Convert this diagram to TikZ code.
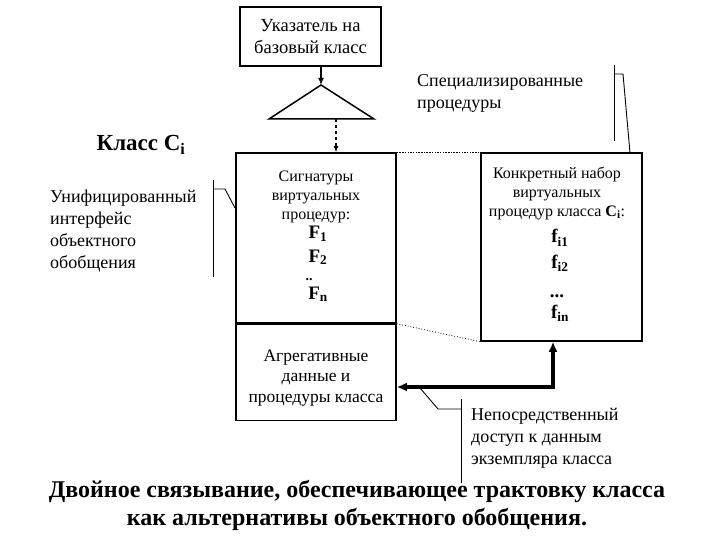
\documentclass[tikz,border=0pt]{standalone}
\usepackage{fontspec}
\setmainfont{Liberation Serif}
\usetikzlibrary{arrows.meta}

\begin{document}
\begin{tikzpicture}[x=1pt,y=-1pt,
  box/.style={draw,line width=1.5pt,inner sep=0pt},
  txt/.style={inner sep=0pt,align=center,font=\fontsize{16}{19}\selectfont},
  note/.style={inner sep=0pt,align=left,font=\fontsize{18}{22}\selectfont},
  lead/.style={line width=0.9pt},
  sym/.style={inner sep=0pt,anchor=base,font=\bfseries\fontsize{19}{19}\selectfont}]
  \useasboundingbox (0,0) rectangle (720,540);

  % pointer to the base class
  \node[box,minimum width=141,minimum height=59,align=center,font=\fontsize{18.5}{22}\selectfont] (ptr) at (310.5,36.5) {Указатель на\\базовый класс};
  \coordinate (apex) at (321,85);
  \coordinate (baseL) at (269,119);
  \coordinate (baseR) at (374,119);
  \coordinate (tri) at (336,119);
  \draw[line width=1.5pt] (apex) -- (baseL) -- (baseR) -- cycle;
  \draw[line width=2pt,-{Latex[length=7pt,width=6pt]}] (ptr.south -| apex) -- (apex);

  % class Ci
  \node[inner sep=0pt,font=\bfseries\fontsize{23}{23}\selectfont] (cls) at (141,145) {Класс C\textsubscript{i}};
  \node[box,minimum width=160,minimum height=170] (sig) at (316,238) {};
  \node[box,minimum width=160,minimum height=96,anchor=north] (agg) at (sig.south) {};
  \node[box,minimum width=161,minimum height=188] (impl) at (561.5,247) {};
  \draw[line width=1.6pt,dashed,-{Latex[length=6pt,width=5pt]}] (tri) -- (tri |- sig.north);
  \draw[line width=1.3pt,dash pattern=on 1.5pt off 1.2pt] (sig.north east) -- (impl.north west);
  \draw[line width=0.8pt,dotted] (sig.south east) -- (impl.south west);

  % signatures
  \node[txt] (sigtxt) at (316,197) {Сигнатуры\\виртуальных\\процедур:};
  \node[sym] (F1) at (318,239) {F\textsubscript{1}};
  \node[sym] (F2) at (318,262) {F\textsubscript{2}};
  \node[sym,font=\bfseries\fontsize{14}{14}\selectfont] (Fdots) at (309,280) {..};
  \node[sym] (Fn) at (318,299) {F\textsubscript{n}};
  \node[txt,font=\fontsize{17.5}{20.5}\selectfont] (aggtxt) at (316,378) {Агрегативные\\данные и\\процедуры класса};

  % concrete set
  \node[txt] (impltxt) at (557,193) {Конкретный набор\\виртуальных\\процедур класса \textbf{C}\textsubscript{\textbf{i}}:};
  \node[sym] (f1) at (560,243) {f\textsubscript{i1}};
  \node[sym] (f2) at (560,268) {f\textsubscript{i2}};
  \node[sym] (fdots) at (557,297) {...};
  \node[sym] (fn) at (560,318) {f\textsubscript{in}};

  % direct access
  \coordinate (bend) at (553,387);
  \draw[line width=4.5pt,{Latex[length=10pt,width=9pt]}-{Latex[length=10pt,width=9pt]}] (bend -| agg.east) -- (bend) -- (bend |- impl.south);

  % callouts
  \node[note,anchor=west] (uni) at (50,231) {Унифицированный\\интерфейс\\объектного\\обобщения};
  \coordinate (uniT) at (213,180);
  \coordinate (uniB) at (213,277);
  \coordinate (uniK) at (225,189);
  \coordinate (uniP) at (235,208);
  \draw[lead] (uniT) -- (uniB);
  \draw[lead] (uniK -| uniT) -- (uniK) -- (uniP);

  \node[note,anchor=west] (spec) at (417,93) {Специализированные\\процедуры};
  \coordinate (specT) at (614,65);
  \coordinate (specB) at (614,141);
  \coordinate (specK) at (623,74);
  \coordinate (specP) at (630,153);
  \draw[lead] (specT) -- (specB);
  \draw[lead] (specK -| specT) -- (specK) -- (specP);

  \node[note,anchor=west] (direct) at (471,438) {Непосредственный\\доступ к данным\\экземпляра класса};
  \coordinate (dirT) at (461,399);
  \coordinate (dirB) at (461,483);
  \coordinate (dirK) at (438,409);
  \coordinate (dirP) at (420,388);
  \draw[lead] (dirT) -- (dirB);
  \draw[lead] (dirP) -- (dirK) -- (dirK -| dirT);

  % caption
  \node[inner sep=0pt,align=center,font=\bfseries\fontsize{24}{28}\selectfont] (cap) at (357,505) {Двойное связывание, обеспечивающее трактовку класса\\как альтернативы объектного обобщения.};
\end{tikzpicture}
\end{document}
